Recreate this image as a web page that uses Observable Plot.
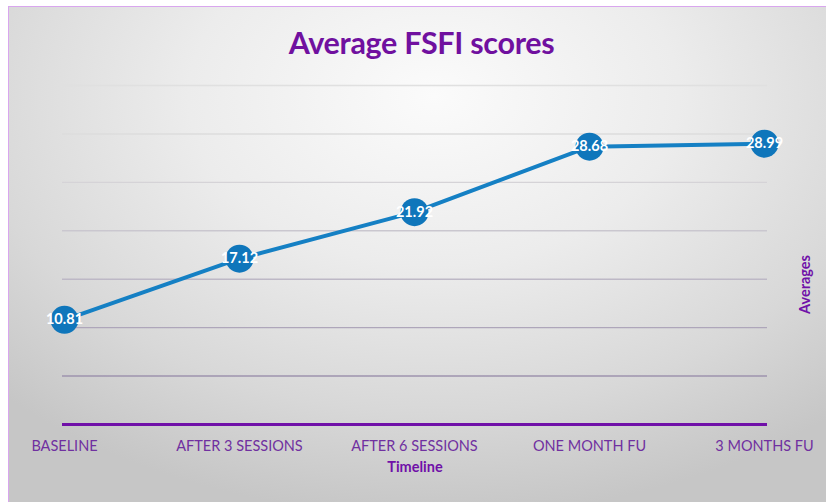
<!DOCTYPE html>
<html>
<head>
<meta charset="utf-8">
<script src="https://cdn.jsdelivr.net/npm/d3@7"></script>
<script src="https://cdn.jsdelivr.net/npm/@observablehq/plot@0.6"></script>
<style>
  html, body { margin: 0; padding: 0; background: #fff; }
  #outer { position: relative; width: 826px; height: 502px; overflow: hidden; background: #fff; }
  #card {
    position: absolute; left: 8px; top: 6px; width: 818px; height: 496px;
    box-sizing: border-box; border-left: 1px solid #d9a6ee; border-top: 1px solid #d9a6ee;
    background: radial-gradient(ellipse 75% 85% at 52% 18%, #fbfbfb 0%, #ececec 40%, #d8d8d8 75%, #c6c6c6 100%);
    font-family: Lato, "Open Sans", sans-serif;
  }
  #title {
    height: 63px; line-height: 70px; text-align: center; color: #70109f;
    font-weight: bold; font-size: 30.5px; letter-spacing: -0.3px; padding-left: 8px;
  }
  svg { display: block; background: transparent; }
</style>
</head>
<body>
<div id="outer"><div id="card"><div id="title">Average FSFI scores</div><div id="chart"></div></div></div>
<script>
const categories = ["BASELINE", "AFTER 3 SESSIONS", "AFTER 6 SESSIONS", "ONE MONTH FU", "3 MONTHS FU"];
const averages = [10.81, 17.12, 21.92, 28.68, 28.99];
const gridTicks = [5, 10, 15, 20, 25, 30, 35];

const data = categories.map((c, i) => ({cat: c, v: averages[i]}));
const purple = "#7010a8";
const gridColor = d3.interpolateRgb("#e0e0e0", "#968aa8");

const chart = Plot.plot({
  width: 817,
  height: 432,
  marginTop: 15,
  marginBottom: 78,
  marginLeft: 53,
  marginRight: 59,
  style: {background: "transparent", fontFamily: "Lato, 'Open Sans', sans-serif"},
  x: {type: "point", domain: categories, padding: 0, label: null, range: [53, 756]},
  y: {domain: [0, 35], axis: null},
  marks: [
    Plot.ruleY(gridTicks, {stroke: d => gridColor(Math.pow(1 - d / 35, 1.6) * 1.15), strokeWidth: 1.4}),
    Plot.ruleY([0], {stroke: purple, strokeWidth: 3}),
    Plot.axisX({tickSize: 0, tickPadding: 16, fontSize: 14.5, fill: "#7030a0", label: null}),
    Plot.text(["Timeline"], {frameAnchor: "bottom", dy: 47, fontSize: 14.5, fontWeight: "bold", fill: purple}),
    Plot.text(["Averages"], {frameAnchor: "right", dx: 38, rotate: -90, fontSize: 14.5, fontWeight: "bold", fill: purple}),
    Plot.line(data, {x: "cat", y: "v", stroke: "#1580c4", strokeWidth: 4}),
    Plot.dot(data, {x: "cat", y: "v", r: 14, fill: "#0f76bb", stroke: "none"}),
    Plot.text(data, {x: "cat", y: "v", text: d => d.v.toFixed(2), fill: "white", fontWeight: "bold", fontSize: 14.5})
  ]
});
document.getElementById("chart").appendChild(chart);
</script>
</body>
</html>
